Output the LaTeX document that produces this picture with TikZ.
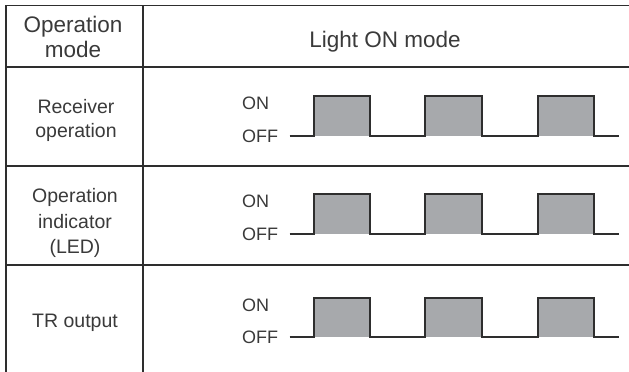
\documentclass[tikz,border=0pt]{standalone}
\usepackage{fontspec}
\setmainfont{Liberation Sans}
\definecolor{txt}{HTML}{3A3A3A}
\definecolor{ln}{HTML}{2E2E2E}
\definecolor{pulsefill}{HTML}{A7A9AC}
\begin{document}
\begin{tikzpicture}[x=1pt,y=-1pt,
  tbl/.style={draw=ln,line width=1.5pt},
  wave/.style={draw=ln,line width=1.3pt,line join=miter},
  pulse/.style={fill=pulsefill},
  hdr/.style={text=txt,inner sep=0pt,anchor=base,font=\fontsize{22.5}{26}\selectfont},
  lbl/.style={text=txt,inner sep=0pt,anchor=base,font=\fontsize{19.5}{24}\selectfont},
  lvl/.style={text=txt,inner sep=0pt,anchor=base west,font=\fontsize{18}{22}\selectfont}]
\useasboundingbox (0,0) rectangle (629,372);
\fill[white] (0,0) rectangle (629,372);
% table
\draw[tbl] (6,372) -- (6,5.5) -- (629,5.5);
\draw[tbl] (143,5.5) -- (143,372);
\draw[tbl] (6,67) -- (629,67);
\draw[tbl] (6,166) -- (629,166);
\draw[tbl] (6,265) -- (629,265);
% header
\node[hdr] (h1) at (73,32) {Operation};
\node[hdr] (h2) at (73,57) {mode};
\node[hdr] (h3) at (385,47) {Light ON mode};
% row labels
\node[lbl] (r1a) at (76,113) {Receiver};
\node[lbl] (r1b) at (76,137) {operation};
\node[lbl] (r2a) at (75,202) {Operation};
\node[lbl] (r2b) at (75,228) {indicator};
\node[lbl] (r2c) at (75,253) {(LED)};
\node[lbl] (r3a) at (75,327) {TR output};
% waveforms
\foreach \on/\off/\i in {96/136/1,194/234/2,298/337/3}{
  \fill[pulse] (314,\on) rectangle (370,\off);
  \fill[pulse] (425,\on) rectangle (482,\off);
  \fill[pulse] (538,\on) rectangle (594,\off);
  \draw[wave] (289.5,\off) -- (314,\off) -- (314,\on) -- (370,\on) -- (370,\off)
     -- (425,\off) -- (425,\on) -- (482,\on) -- (482,\off)
     -- (538,\off) -- (538,\on) -- (594,\on) -- (594,\off) -- (618.5,\off);
  \node[lvl] (on\i) at (242,\on+13) {ON};
  \node[lvl] (off\i) at (242,\off+6) {OFF};
}
\end{tikzpicture}
\end{document}
